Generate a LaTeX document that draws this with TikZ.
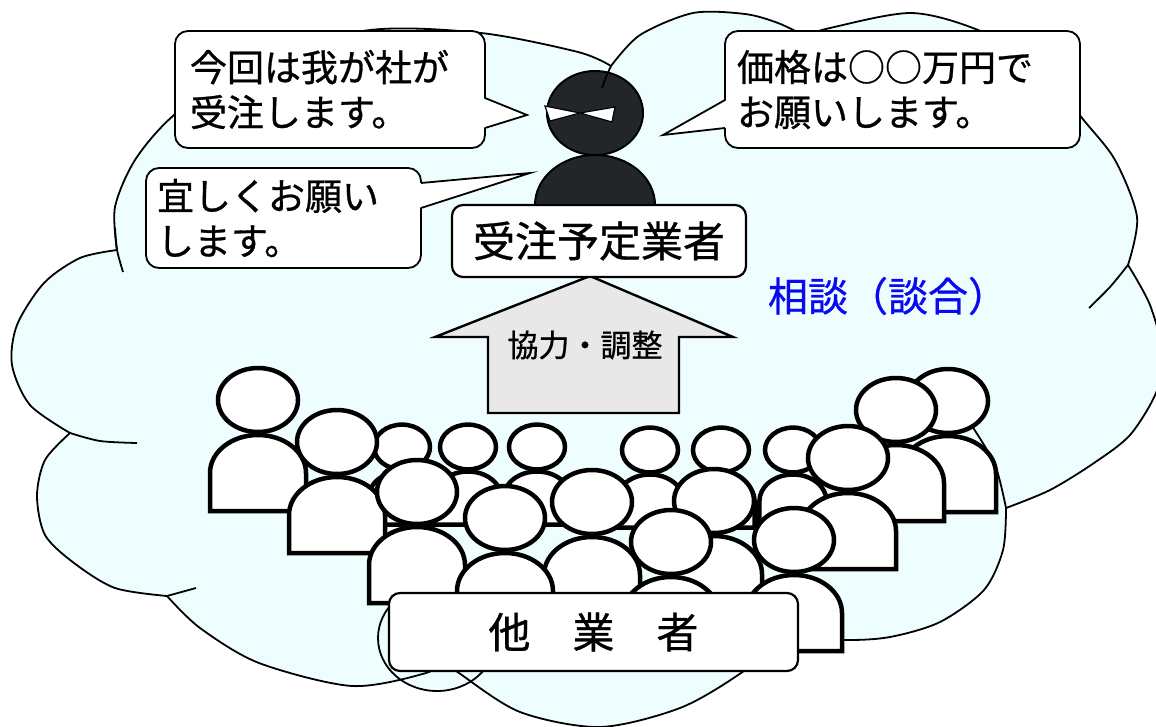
\documentclass[tikz,border=0pt]{standalone}
\usepackage{fontspec}
\newfontfamily\jpfont{Noto Sans CJK JP}[FakeBold=0.8]
\usepackage{tikz}
\definecolor{cloudfill}{RGB}{238,254,255}
\definecolor{ninjagray}{RGB}{35,38,40}
\definecolor{arrowgray}{RGB}{232,232,232}
\definecolor{dangoblue}{RGB}{10,10,240}
\tikzset{
	cloudline/.style={draw=black, line width=1.8pt},
	man/.style={draw=black, fill=white, line width=4.5pt},
	bubble/.style={draw=black, fill=white, line width=1.8pt, rounded corners=13pt,
			inner sep=0pt, align=left, font=\jpfont\fontsize{37}{45}\selectfont},
	tag/.style={draw=black, fill=white, line width=2.2pt, rounded corners=11pt, inner sep=0pt}
}
% one person of the crowd: head centre x, y and scale
\newcommand{\crowdman}[3]{
	\draw[man] ({#1-48*#3},{#2+111*#3}) -- ({#1-48*#3},{#2+73*#3})
		arc[start angle=180, end angle=360, x radius={48*#3}, y radius={38*#3}]
		-- ({#1+48*#3},{#2+111*#3}) -- cycle;
	\draw[man] (#1,#2) ellipse[x radius={40*#3}, y radius={32*#3}];
}

\begin{document}
\begin{tikzpicture}[x=1pt, y=-1pt]
	\useasboundingbox (0,0) rectangle (1156,726);
	\fill[white] (0,0) rectangle (1156,726);

	% cloud
	\fill[cloudfill] (437,638) ellipse[x radius=59, y radius=53];
	\draw[cloudline, fill=cloudfill]
		plot[smooth] coordinates {(117,250) (115,207) (135,160) (174,115) (250,60) (370,30) (481,33) (578,52) (611,66)}
		-- plot[smooth] coordinates {(611,66) (640,35) (693,13) (745,14) (778,23) (805,36)}
		-- plot[smooth] coordinates {(805,36) (830,28) (911,13) (978,30) (1040,65) (1082,118) (1115,160) (1137,217) (1128,265)}
		-- plot[smooth] coordinates {(1128,265) (1150,305) (1163,355) (1156,393) (1130,435) (1094,463) (1050,490) (1006,508)}
		-- plot[smooth] coordinates {(1006,508) (1003,550) (984,590) (940,622) (890,637) (844,640) (785,636)}
		-- plot[smooth] coordinates {(785,636) (741,673) (680,708) (600,727) (520,712) (459,673) (443,660)}
		-- plot[smooth] coordinates {(443,660) (426,673) (352,686) (259,663) (200,628) (167,596)}
		-- plot[smooth] coordinates {(167,596) (115,588) (74,563) (45,535) (37,496) (45,460) (70,433)}
		-- plot[smooth] coordinates {(70,433) (30,405) (12,365) (17,325) (44,283) (80,258) (117,250)}
		-- cycle;
	\draw[cloudline] (437,638) ellipse[x radius=59, y radius=53];
	\draw[cloudline] plot[smooth] coordinates {(115,228) (117,250) (123,272)};
	\draw[cloudline] plot[smooth] coordinates {(70,433) (100,441) (137,443)};
	\draw[cloudline] plot[smooth] coordinates {(167,596) (196,588)};
	\draw[cloudline] plot[smooth] coordinates {(1128,265) (1110,287) (1089,308)};
	\draw[cloudline] plot[smooth] coordinates {(1006,508) (995,465) (972,426)};

	% crowd, back rows first
	\foreach \px/\py in {402/447, 468/447, 537/447, 650/450, 721/450, 793/450}
		{\crowdman{\px}{\py}{0.7}}
	\foreach \px/\py in {258/400, 337/442, 948/401, 896/410, 848/458,
			417/492, 592/502, 714/501, 505/518, 671/542, 794/540}
		{\crowdman{\px}{\py}{1}}

	% ninja
	\fill[ninjagray, draw=black, line width=2pt] (535,205)
		arc[start angle=180, end angle=360, x radius=60, y radius=50] -- cycle;
	\fill[ninjagray, draw=black, line width=2pt] (595,113) ellipse[x radius=48, y radius=42];
	\draw[fill=white, line width=1.2pt] (545,106) -- (580,113) -- (615,107) -- (612,122)
		-- (580,113) -- (550,121) -- cycle;
	\draw[cloudline] plot[smooth] coordinates {(611,66) (606,77) (602,88)};

	% speech bubbles
	\node[bubble, minimum width=310pt, minimum height=117pt, text width=280pt] (b1) at (330,89.5)
		{今回は我が社が\\受注します。};
	\coordinate (t1) at (527,115);
	\fill[white] (483,98) -- (t1) -- (483,128) -- cycle;
	\draw[cloudline] (485,98) -- (t1) -- (485,128);

	\node[bubble, minimum width=275pt, minimum height=100pt, text width=253pt] (b2) at (283.5,218)
		{宜しくお願い\\します。};
	\coordinate (t2) at (530,173);
	\fill[white] (419,183) -- (t2) -- (419,208) -- cycle;
	\draw[cloudline] (421,183) -- (t2) -- (421,208);

	\node[bubble, minimum width=355pt, minimum height=117pt, text width=331pt] (b3) at (902.5,89.5)
		{価格は○○万円で\\お願いします。};
	\coordinate (t3) at (663,135);
	\fill[white] (727,100) -- (t3) -- (727,128) -- cycle;
	\draw[cloudline] (725,100) -- (t3) -- (725,128);

	% arrow up to the chosen bidder
	\draw[fill=arrowgray, line width=2.4pt] (590,276) -- (733,337) -- (679,337) -- (679,413)
		-- (488,413) -- (488,337) -- (435,337) -- cycle;
	\node[font=\jpfont\fontsize{31}{31}\selectfont] (coop) at (585,345) {協力・調整};

	\node[tag, minimum width=294pt, minimum height=72pt, font=\jpfont\fontsize{42}{42}\selectfont]
		(bidder) at (599,241) {受注予定業者};
	\node[text=dangoblue, font=\jpfont\fontsize{40}{40}\selectfont] (dango) at (888,296) {相談（談合）};
	\node[tag, minimum width=409pt, minimum height=78pt, font=\jpfont\fontsize{42}{42}\selectfont]
		(others) at (593.5,632) {他　業　者};
\end{tikzpicture}
\end{document}
